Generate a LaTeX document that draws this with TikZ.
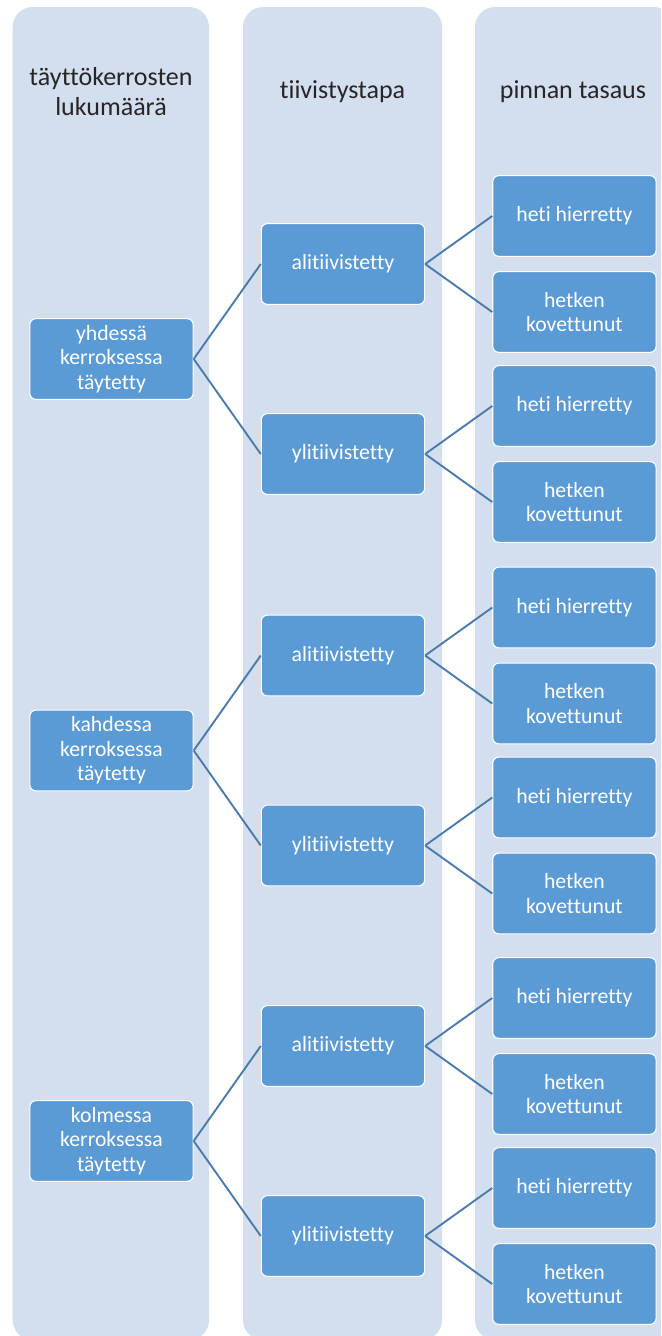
\documentclass[tikz,border=0pt]{standalone}
\usepackage{fontspec}
\setmainfont[Ligatures=NoCommon]{Carlito}
\usepackage{tikz}

\definecolor{sarake}{RGB}{211,222,239}
\definecolor{laatikko}{RGB}{91,155,213}
\definecolor{viiva}{RGB}{74,122,172}
\definecolor{otsikko}{RGB}{38,38,38}

\begin{document}
\begin{tikzpicture}[x=0.75pt,y=0.75pt,level distance=173.6pt]
\tikzstyle{level 1}=[sibling distance=142.5pt]
\tikzstyle{level 2}=[sibling distance=72pt]
\tikzstyle{edge from parent}=[draw=none]
\tikzstyle{lohko}=[draw=white, line width=0.8pt, fill=laatikko, rounded corners=4.5pt, text=white, align=center, minimum width=122.5pt, minimum height=60.5pt, inner sep=2pt, font=\fontsize{16.3}{18.5}\selectfont]
\tikzstyle{otsake}=[text=otsikko, align=center, font=\fontsize{19.5}{22.5}\selectfont]
\tikzstyle{yhteys}=[draw=viiva, line width=1.4pt]

\useasboundingbox (0,0) rectangle (661,-1336);
\clip (0,0) rectangle (661,-1336);

% sarakkeet
\fill[sarake, rounded corners=15pt] (12.7,-7) rectangle (209,-1340);
\fill[sarake, rounded corners=15pt] (243,-7) rectangle (442,-1340);
\fill[sarake, rounded corners=15pt] (475,-7) rectangle (674,-1340);

\node[otsake] (otsA) at (111,-92) {täyttökerrosten\\lukumäärä};
\node[otsake] (otsB) at (342.5,-92) {tiivistystapa};
\node[otsake] (otsC) at (573,-92) {pinnan tasaus};

	\node[lohko] (yks) at (111.5,-359) {yhdessä\\kerroksessa\\täytetty} [grow'=right]
		child{node[lohko] (ali1){alitiivistetty}
			child{node[lohko] (hh1){heti hierretty}}
			child{node[lohko] (hk1){hetken\\kovettunut}} }
		child{node[lohko] (yli1){ylitiivistetty}
			child{node[lohko] (hh2){heti hierretty}}
			child{node[lohko] (hk2){hetken\\kovettunut}} };
	\draw[yhteys] (yks.east) edge (ali1.west);
	\draw[yhteys] (yks.east) edge (yli1.west);
	\draw[yhteys] (ali1.east) edge (hh1.west);
	\draw[yhteys] (ali1.east) edge (hk1.west);
	\draw[yhteys] (yli1.east) edge (hh2.west);
	\draw[yhteys] (yli1.east) edge (hk2.west);

	\node[lohko] (kaks) at (111.5,-750.5) {kahdessa\\kerroksessa\\täytetty} [grow'=right]
		child{node[lohko] (ali2){alitiivistetty}
			child{node[lohko] (hh3){heti hierretty}}
			child{node[lohko] (hk3){hetken\\kovettunut}} }
		child{node[lohko] (yli2){ylitiivistetty}
			child{node[lohko] (hh4){heti hierretty}}
			child{node[lohko] (hk4){hetken\\kovettunut}} };
	\draw[yhteys] (kaks.east) edge (ali2.west);
	\draw[yhteys] (kaks.east) edge (yli2.west);
	\draw[yhteys] (ali2.east) edge (hh3.west);
	\draw[yhteys] (ali2.east) edge (hk3.west);
	\draw[yhteys] (yli2.east) edge (hh4.west);
	\draw[yhteys] (yli2.east) edge (hk4.west);

	\node[lohko] (kolm) at (111.5,-1141) {kolmessa\\kerroksessa\\täytetty} [grow'=right]
		child{node[lohko] (ali3){alitiivistetty}
			child{node[lohko] (hh5){heti hierretty}}
			child{node[lohko] (hk5){hetken\\kovettunut}} }
		child{node[lohko] (yli3){ylitiivistetty}
			child{node[lohko] (hh6){heti hierretty}}
			child{node[lohko] (hk6){hetken\\kovettunut}} };
	\draw[yhteys] (kolm.east) edge (ali3.west);
	\draw[yhteys] (kolm.east) edge (yli3.west);
	\draw[yhteys] (ali3.east) edge (hh5.west);
	\draw[yhteys] (ali3.east) edge (hk5.west);
	\draw[yhteys] (yli3.east) edge (hh6.west);
	\draw[yhteys] (yli3.east) edge (hk6.west);

\end{tikzpicture}
\end{document}
